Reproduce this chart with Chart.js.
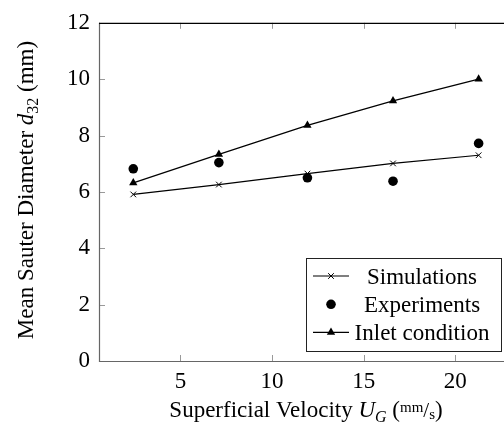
<!DOCTYPE html>
<html>
<head>
<meta charset="utf-8">
<script src="https://cdn.jsdelivr.net/npm/chart.js@4/dist/chart.umd.min.js"></script>
<style>
  html, body { margin: 0; padding: 0; background: #fff; overflow: hidden; }
  canvas { display: block; }
</style>
</head>
<body>
<canvas id="myChart" width="520" height="427"></canvas>
<script>
// superficial velocity (mm/s) and the three d32 series (mm)
let velocity = [2.43, 7.1, 11.93, 16.6, 21.27];
let simulations = [5.91, 6.26, 6.65, 7.01, 7.30];
let experiments = [6.82, 7.04, 6.50, 6.38, 7.72];
let inlet = [6.32, 7.33, 8.36, 9.23, 10.0];
let xTicks = [5, 10, 15, 20];
let yTicks = [0, 2, 4, 6, 8, 10, 12];

const serif = "'Liberation Serif', 'Times New Roman', serif";
Chart.defaults.font.family = serif;
Chart.defaults.color = '#000';

function points(ys) {
  return velocity.map((v, i) => ({ x: v, y: ys[i] }));
}

// frame, inward ticks, axis titles and legend box
const decorations = {
  id: 'decorations',
  afterDraw(chart) {
    const { ctx, chartArea: { left, right, top, bottom }, scales: { x, y } } = chart;
    ctx.save();

    ctx.lineWidth = 1;
    ctx.strokeStyle = '#999';
    ctx.beginPath();
    xTicks.forEach(t => {
      const px = Math.round(x.getPixelForValue(t)) + 0.5;
      ctx.moveTo(px, bottom); ctx.lineTo(px, bottom - 6);
      ctx.moveTo(px, top); ctx.lineTo(px, top + 6);
    });
    yTicks.forEach(t => {
      const py = Math.round(y.getPixelForValue(t)) + 0.5;
      ctx.moveTo(left, py); ctx.lineTo(left + 6, py);
      ctx.moveTo(right, py); ctx.lineTo(right - 6, py);
    });
    ctx.stroke();

    ctx.lineWidth = 1.2;
    ctx.strokeStyle = '#666';
    ctx.beginPath();
    ctx.moveTo(left + 0.5, top);
    ctx.lineTo(left + 0.5, bottom + 0.5);
    ctx.lineTo(right, bottom + 0.5);
    ctx.stroke();
    ctx.strokeStyle = '#000';
    ctx.beginPath();
    ctx.moveTo(left, top + 0.5);
    ctx.lineTo(right, top + 0.5);
    ctx.stroke();

    // pieces of mixed text: [text, font, baseline shift]
    function runs(parts, x0, y0) {
      let cx = x0;
      parts.forEach(([t, f, dy]) => {
        ctx.font = f;
        ctx.fillText(t, cx, y0 + dy);
        cx += ctx.measureText(t).width;
      });
    }
    function width(parts) {
      return parts.reduce((w, [t, f]) => { ctx.font = f; return w + ctx.measureText(t).width; }, 0);
    }

    ctx.fillStyle = '#000';
    ctx.textBaseline = 'alphabetic';
    ctx.textAlign = 'left';

    const xTitle = [
      ['Superficial Velocity ', '23px ' + serif, 0],
      ['U', 'italic 23px ' + serif, 0],
      ['G', 'italic 16px ' + serif, 5],
      [' (', '23px ' + serif, 0],
      ['mm', '15px ' + serif, -5],
      ['/', '21px ' + serif, 0],
      ['s', '15px ' + serif, 2],
      [')', '23px ' + serif, 0]
    ];
    runs(xTitle, 306 - width(xTitle) / 2, 417);

    const yTitle = [
      ['Mean Sauter Diameter ', '23px ' + serif, 0],
      ['d', 'italic 23px ' + serif, 0],
      ['32', '16px ' + serif, 5],
      [' (mm)', '23px ' + serif, 0]
    ];
    ctx.save();
    ctx.translate(33, 190);
    ctx.rotate(-Math.PI / 2);
    runs(yTitle, -width(yTitle) / 2, 0);
    ctx.restore();

    // legend
    const box = { l: 306, t: 258, r: 501, b: 351 };
    ctx.fillStyle = '#fff';
    ctx.fillRect(box.l, box.t, box.r - box.l, box.b - box.t);
    ctx.strokeStyle = '#222';
    ctx.lineWidth = 1;
    ctx.strokeRect(box.l + 0.5, box.t + 0.5, box.r - box.l, box.b - box.t);

    const rows = [276, 304.3, 332.3];
    chart.data.datasets.forEach((ds, i) => {
      const yy = rows[i];
      ctx.strokeStyle = '#000';
      ctx.fillStyle = '#000';
      if (ds.showLine !== false) {
        ctx.lineWidth = 1.2;
        ctx.beginPath();
        ctx.moveTo(313, yy);
        ctx.lineTo(349, yy);
        ctx.stroke();
      }
      ctx.lineWidth = 1;
      Chart.helpers.drawPoint(ctx, {
        pointStyle: ds.pointStyle,
        radius: ds.pointRadius,
        rotation: 0,
        borderWidth: ds.pointBorderWidth
      }, 331, yy);
      ctx.font = '23px ' + serif;
      ctx.textAlign = 'center';
      ctx.fillStyle = '#000';
      ctx.fillText(ds.label, 422, yy + 7.5);
    });

    ctx.restore();
  }
};

let ctx = document.getElementById('myChart').getContext('2d');
let myChart = new Chart(ctx, {
  type: 'line',
  data: {
    datasets: [{
      label: 'Simulations',
      data: points(simulations),
      borderColor: '#000',
      backgroundColor: '#000',
      borderWidth: 1.2,
      pointStyle: 'crossRot',
      pointRadius: 4,
      pointBorderWidth: 1
    }, {
      label: 'Experiments',
      data: points(experiments),
      showLine: false,
      borderColor: '#000',
      backgroundColor: '#000',
      pointStyle: 'circle',
      pointRadius: 4.8,
      pointBorderWidth: 0
    }, {
      label: 'Inlet condition',
      data: points(inlet),
      borderColor: '#000',
      backgroundColor: '#000',
      borderWidth: 1.2,
      pointStyle: 'triangle',
      pointRadius: 4.8,
      pointBorderWidth: 0
    }]
  },
  options: {
    responsive: false,
    animation: false,
    events: [],
    layout: { padding: { top: 17, right: 6, left: 0, bottom: 0 } },
    plugins: {
      legend: { display: false },
      tooltip: { enabled: false }
    },
    scales: {
      x: {
        type: 'linear',
        min: 0.56,
        max: 23.2,
        grid: { display: false, drawTicks: false },
        border: { display: false },
        afterFit: (s) => { s.height = 66; },
        afterBuildTicks: (s) => { s.ticks = xTicks.map(v => ({ value: v })); },
        ticks: { font: { size: 23 }, padding: 7, maxRotation: 0 }
      },
      y: {
        type: 'linear',
        min: 0,
        max: 12,
        grid: { display: false, drawTicks: false },
        border: { display: false },
        afterFit: (s) => { s.width = 99; },
        afterBuildTicks: (s) => { s.ticks = yTicks.map(v => ({ value: v })); },
        ticks: { font: { size: 23 }, padding: 9 }
      }
    }
  },
  plugins: [decorations]
});
</script>
</body>
</html>
